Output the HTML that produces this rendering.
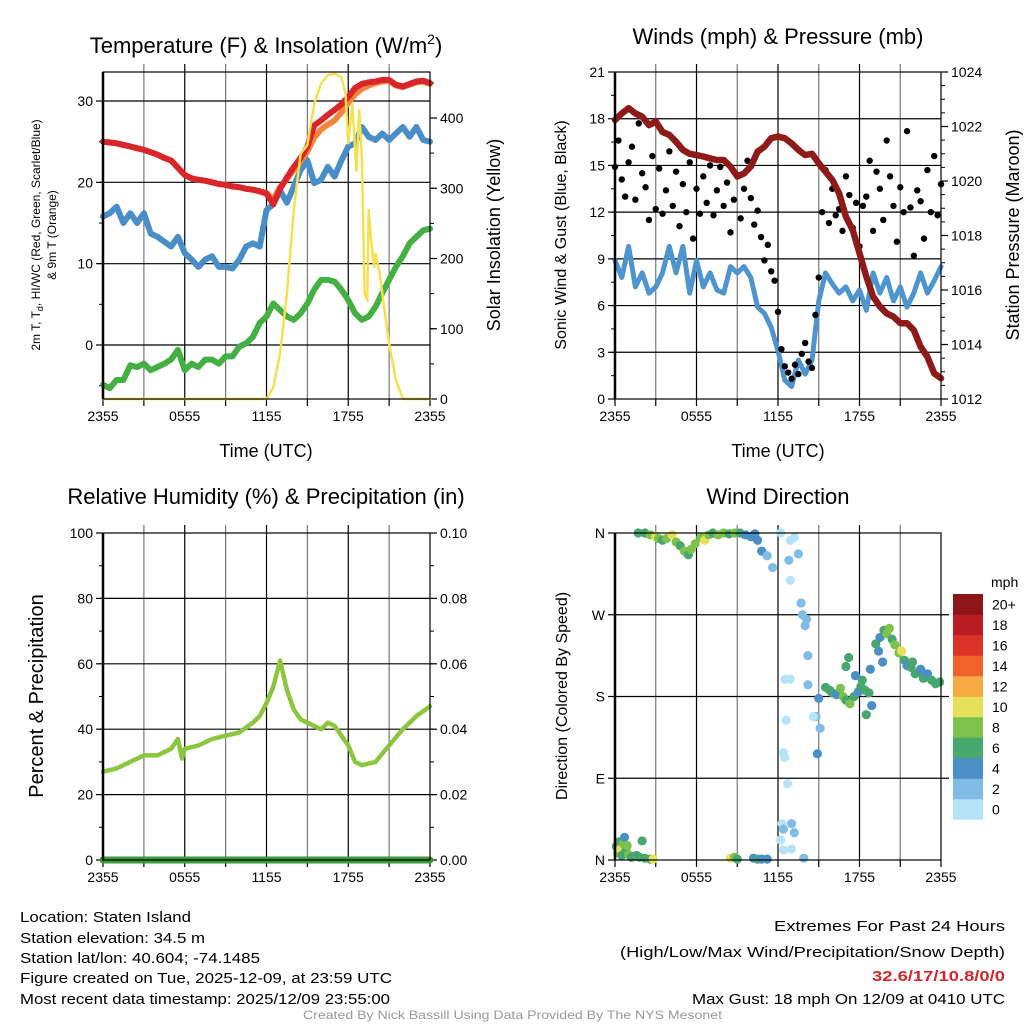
<!DOCTYPE html>
<html><head><meta charset="utf-8"><style>
html,body{margin:0;padding:0;background:#fff;}
svg{display:block;font-family:"Liberation Sans",Arial,sans-serif;}
</style></head><body>
<svg id="chart" width="1024" height="1024" viewBox="0 0 1024 1024" xmlns="http://www.w3.org/2000/svg">
<rect width="1024" height="1024" fill="#fff"/>
<text x="266" y="53" font-size="22" text-anchor="middle">Temperature (F) &amp; Insolation (W/m<tspan font-size="14" dy="-9">2</tspan><tspan dy="9">)</tspan></text>
<text x="778" y="44" font-size="22" text-anchor="middle">Winds (mph) &amp; Pressure (mb)</text>
<text x="266" y="504" font-size="22" text-anchor="middle">Relative Humidity (%) &amp; Precipitation (in)</text>
<text x="778" y="504" font-size="22" text-anchor="middle">Wind Direction</text>

<text x="266" y="457" font-size="18" text-anchor="middle">Time (UTC)</text>
<text x="778" y="457" font-size="18" text-anchor="middle">Time (UTC)</text>
<text transform="translate(40,235) rotate(-90)" font-size="12" text-anchor="middle">2m T, T<tspan font-size="9" dy="3">d</tspan><tspan dy="-3">, HI/WC (Red, Green, Scarlet/Blue)</tspan></text>
<text transform="translate(56,235) rotate(-90)" font-size="12" text-anchor="middle">&amp; 9m T (Orange)</text>
<text transform="translate(500,235) rotate(-90)" font-size="18" text-anchor="middle">Solar Insolation (Yellow)</text>
<text transform="translate(566,235) rotate(-90)" font-size="16" text-anchor="middle">Sonic Wind &amp; Gust (Blue, Black)</text>
<text transform="translate(1019,235) rotate(-90)" font-size="18" text-anchor="middle">Station Pressure (Maroon)</text>
<text transform="translate(43,696) rotate(-90)" font-size="20" text-anchor="middle">Percent &amp; Precipitation</text>
<text transform="translate(567,696) rotate(-90)" font-size="16" text-anchor="middle">Direction (Colored By Speed)</text>

<g font-size="15">
<text x="20" y="922" textLength="171" lengthAdjust="spacingAndGlyphs">Location: Staten Island</text>
<text x="20" y="943" textLength="185" lengthAdjust="spacingAndGlyphs">Station elevation: 34.5 m</text>
<text x="20" y="963" textLength="240" lengthAdjust="spacingAndGlyphs">Station lat/lon: 40.604; -74.1485</text>
<text x="20" y="983" textLength="372" lengthAdjust="spacingAndGlyphs">Figure created on Tue, 2025-12-09, at 23:59 UTC</text>
<text x="20" y="1004" textLength="370" lengthAdjust="spacingAndGlyphs">Most recent data timestamp: 2025/12/09 23:55:00</text>
</g>
<g font-size="15">
<text x="774" y="931" textLength="231" lengthAdjust="spacingAndGlyphs">Extremes For Past 24 Hours</text>
<text x="620" y="957" textLength="385" lengthAdjust="spacingAndGlyphs">(High/Low/Max Wind/Precipitation/Snow Depth)</text>
<text x="872" y="981" textLength="133" lengthAdjust="spacingAndGlyphs" fill="#d0282c" font-weight="bold">32.6/17/10.8/0/0</text>
<text x="692" y="1004" textLength="313" lengthAdjust="spacingAndGlyphs">Max Gust: 18 mph On 12/09 at 0410 UTC</text>
</g>
<text x="303" y="1019" font-size="12" fill="#999" textLength="419" lengthAdjust="spacingAndGlyphs">Created By Nick Bassill Using Data Provided By The NYS Mesonet</text>
<g id="plots"></g>
</svg>
<script>
// ---------- data ----------
const halfHours = [];
for (let i = 0; i <= 48; i++) halfHours.push(i * 0.5);
const xTickLabels = ["2355","0555","1155","1755","2355"];
const tempTicks = [0,10,20,30];
const solarTicks = [0,100,200,300,400];
const windTicks = [0,3,6,9,12,15,18,21];
const pressTicks = [1012,1014,1016,1018,1020,1022,1024];
const rhTicks = [0,20,40,60,80,100];
const precipTickLabels = ["0.00","0.02","0.04","0.06","0.08","0.10"];
const dirTickLabels = ["N","E","S","W","N"];

const airTemp = [25.0,24.9,24.8,24.6,24.4,24.2,24.0,23.7,23.4,23.0,22.7,21.8,20.9,20.5,20.3,20.2,20.0,19.8,19.7,19.5,19.4,19.2,19.1,18.9,18.6,17.3,19.2,20.6,21.9,23.0,24.4,27.0,27.6,28.3,28.9,29.6,30.5,31.6,32.1,32.3,32.4,32.6,32.6,32.0,31.8,32.1,32.4,32.5,32.2];
const temp9m = [25.0,24.9,24.8,24.6,24.4,24.2,24.0,23.7,23.4,23.0,22.7,21.8,20.9,20.5,20.3,20.2,20.0,19.8,19.7,19.5,19.4,19.2,19.1,18.9,18.7,17.9,19.4,20.4,21.5,22.6,23.8,25.5,26.5,27.1,27.6,28.6,29.8,30.8,31.5,31.9,32.2,32.4,32.5,31.9,31.7,32.0,32.3,32.4,32.1];
const windChill = [15.8,16.2,17.0,15.0,16.2,15.0,16.2,13.7,13.3,12.7,12.1,13.3,11.3,10.5,9.6,10.5,10.9,9.6,9.6,9.4,10.5,12.1,12.5,12.1,16.6,17.3,19.0,17.5,19.5,21.5,22.7,19.9,20.3,21.9,20.7,22.7,24.4,24.8,26.8,25.6,25.2,26.0,25.2,26.0,26.8,25.6,26.8,25.2,25.0];
const dewPoint = [-4.9,-5.3,-4.3,-4.3,-2.5,-2.7,-2.3,-3.1,-2.7,-2.3,-1.8,-0.6,-3.1,-2.3,-2.7,-1.8,-1.8,-2.3,-1.4,-1.4,-0.2,0.2,1.0,2.7,3.5,5.1,4.3,3.5,3.1,3.9,5.1,6.8,8.0,8.0,7.8,6.8,5.5,3.9,3.1,3.5,4.7,6.4,8.0,9.6,10.9,12.5,13.3,14.1,14.3];
const solarHours = [0,12,12.5,13,13.5,14,14.5,15,15.5,16,16.5,17,17.5,17.8,18,18.3,18.6,18.8,19,19.2,19.4,19.5,19.7,19.9,20,20.3,20.5,21,21.5,22,24];
const solarValues = [0,0,17,65,150,269,349,362,420,449,461,463,458,435,364,420,325,411,345,150,140,269,221,188,207,179,150,79,27,0,0];

const sonicWind = [8.9,7.8,9.8,7.2,8.1,6.8,7.2,8.1,9.8,8.1,9.8,6.8,8.9,7.2,8.1,7.0,6.8,8.5,8.1,8.5,7.8,5.9,5.5,4.6,3.1,1.2,0.8,2.5,1.6,2.5,6.3,8.1,7.4,6.8,7.2,6.3,7.0,5.7,8.1,6.8,7.8,6.3,7.2,5.9,6.8,8.1,6.8,7.6,8.5];
const pressure = [1022.24,1022.48,1022.67,1022.48,1022.36,1022.05,1022.18,1021.8,1021.69,1021.44,1021.14,1021.0,1020.95,1020.9,1020.83,1020.77,1020.77,1020.53,1020.16,1020.28,1020.53,1021.08,1021.26,1021.57,1021.63,1021.57,1021.38,1021.14,1020.95,1021.0,1020.65,1020.34,1020.04,1019.55,1018.69,1018.2,1017.35,1016.49,1015.76,1015.39,1015.14,1015.02,1014.78,1014.78,1014.53,1013.92,1013.55,1012.94,1012.76];
const gustValues = [14.9,16.6,14.1,13.0,15.2,16.2,12.8,17.7,14.5,13.6,11.5,15.6,12.2,14.8,11.9,13.4,15.9,12.4,14.6,11.1,13.8,12.0,15.2,10.3,13.5,11.9,14.3,12.6,15.0,11.8,13.4,14.9,12.4,13.9,10.7,12.8,14.4,11.6,13.5,15.3,12.9,11.2,12.1,10.4,8.9,9.9,8.2,7.6,5.6,3.2,2.1,1.7,1.3,2.2,1.6,2.9,3.6,2.4,2.0,5.4,7.8,12.0,14.7,11.3,13.5,11.8,12.2,10.8,14.3,13.1,11.0,12.6,9.8,12.4,13.0,15.3,10.8,14.6,13.5,11.5,16.6,14.3,12.4,10.1,13.6,12.0,17.2,12.3,9.2,13.4,12.7,10.3,14.7,12.0,15.6,11.8,13.8];

const rhHours = [0,1,2,3,4,5,5.5,5.8,6,7,8,9,10,11,11.5,12,12.5,13,13.5,14,14.5,15,16,16.5,17,17.5,18,18.5,19,20,21,22,23,24];
const rhValues = [27,28,30,32,32,34,37,31,34,35,37,38,39,42,44,48,53,61,52,46,43,42,40,42,41,38,35,30,29,30,35,40,44,47];
const precipHours = [0,24];
const precipValues = [0,0];

const dirHours = [0.1,0.2,0.3,0.4,0.5,0.6,0.7,0.8,0.9,1.0,1.2,1.4,1.6,1.8,2.0,2.2,2.6,2.8,1.7,2.2,2.6,3.0,3.2,3.5,3.8,4.2,4.5,4.8,5.1,5.4,5.6,5.9,6.3,6.6,6.9,7.2,7.6,8.0,8.4,8.8,9.2,9.6,10.0,10.3,10.5,10.8,11.2,11.6,8.5,8.8,9.0,10.2,10.5,10.8,11.2,12.2,12.9,13.2,12.8,13.5,12.9,13.7,13.8,14.0,14.2,14.1,12.5,12.9,12.6,12.4,12.5,12.7,12.3,12.4,13.0,13.2,12.2,12.4,13.0,13.9,14.2,15.0,14.8,15.1,14.9,14.6,15.5,15.8,16.0,16.3,16.6,16.8,17.0,17.3,17.6,17.9,18.1,18.4,18.7,18.9,18.8,18.2,17.7,17.0,17.2,18.5,19.2,19.5,19.8,20.0,20.2,20.4,20.6,20.9,19.4,19.7,21.1,21.3,21.5,21.8,22.1,22.4,22.7,23.0,23.3,23.6,23.9,21.9,22.5];
const dirDegrees = [15,8,20,12,5,18,25,10,16,6,3,4,5,3,21,2,1,1,360,360,358,356,354,352,354,358,350,346,340,336,342,348,355,352,358,360,358,360,359,360,360,358,356,359,352,340,335,322,2,3,1,2,1,1,1,360,352,355,330,337,308,283,270,258,225,265,199,199,154,118,113,84,40,34,40,30,22,11,12,2,193,178,158,145,117,158,190,187,184,182,189,180,176,172,180,185,191,187,184,170,210,198,203,213,223,160,238,245,253,249,255,243,237,228,230,218,230,220,214,212,205,207,200,205,198,194,196,218,210];
const dirSpeeds = [7,9,6,10,7,8,4,7,9,8,6,7,6,6,6,6,7,10,7,6,8,10,8,7,9,10,8,6,8,7,8,8,9,10,8,7,8,8,6,8,6,5,4,4,4,4,3,3,10,8,7,5,6,4,5,1,1,1,2,3,1,2,3,3,3,2,1,1,1,1,1,1,1,2,2,2,1,1,1,2,3,4,3,3,4,1,6,6,7,5,8,8,6,8,6,4,6,7,6,4,5,6,4,6,6,6,6,5,6,9,8,6,8,8,4,4,10,6,4,6,7,6,6,4,6,7,6,6,4];

const speedColors = ["#b5e4f9","#80bde6","#4a8fc6","#48a66f","#7dc24b","#e7e15a","#f6aa44","#ef632b","#dc3328","#ba1c24","#8f1519"];
const speedLabels = ["0","2","4","6","8","10","12","14","16","18","20+"];

// ---------- helpers ----------
const NS = "http://www.w3.org/2000/svg";
const root = document.getElementById("plots");
function mk(tag, attrs, parent) {
  const e = document.createElementNS(NS, tag);
  for (const k in attrs) e.setAttribute(k, attrs[k]);
  (parent || root).appendChild(e);
  return e;
}
function lin(d0, d1, r0, r1) { return v => r0 + (v - d0) * (r1 - r0) / (d1 - d0); }
function pathFrom(xs, ys, fx, fy) {
  return xs.map((h, i) => (i ? "L" : "M") + fx(h).toFixed(1) + "," + fy(ys[i]).toFixed(1)).join("");
}

function frame(P, name) {
  const g = mk("g", {});
  
  
  const fx = lin(0, 24, P.x0, P.x1);
  for (let h = 3; h < 24; h += 3) {
    const l = mk("line", {x1: fx(h), x2: fx(h), y1: P.y0 - 8, y2: P.y1, stroke: (h % 6 === 0) ? "#000" : "#777", "stroke-width": 1.2}, g);
    
    
  }
  for (let h = 0; h <= 24; h += 3) {
    const l = mk("line", {x1: fx(h), x2: fx(h), y1: P.y1, y2: P.y1 + 7, stroke: "#000", "stroke-width": 1.2}, g);
    
    
  }
  xTickLabels.forEach((t, i) => {
    const tx = mk("text", {x: fx(i * 6), y: P.y1 + 22, "font-size": 14, "text-anchor": "middle"}, g);
    
    
    tx.textContent = t;
  });
  return {g, fx};
}
function border(P, g) {
  const r = mk("rect", {x: P.x0, y: P.y0, width: P.x1 - P.x0, height: P.y1 - P.y0, fill: "none", stroke: "#000", "stroke-width": 1.2}, g);
  
  
  const l = mk("line", {x1: P.x0, x2: P.x0, y1: P.y0, y2: P.y1, stroke: "#000", "stroke-width": 2.5}, g);
  
  
}
function yAxis(P, g, fy, ticks, labels, side, minorStep, grid, name) {
  const x = side === "left" ? P.x0 : P.x1;
  const dir = side === "left" ? -1 : 1;
  ticks.forEach((v, i) => {
    const y = fy(v);
    if (grid && y > P.y0 + 1 && y < P.y1 - 1) {
      const gl = mk("line", {x1: P.x0, x2: P.x1, y1: y, y2: y, stroke: "#000", "stroke-width": 1.2}, g);
      
      
    }
    const t = mk("line", {x1: x, x2: x + dir * 7, y1: y, y2: y, stroke: "#000", "stroke-width": 1.2}, g);
    
    
    const tx = mk("text", {x: x + dir * 10, y: y + 5, "font-size": 14, "text-anchor": side === "left" ? "end" : "start"}, g);
    
    
    tx.textContent = labels[i];
  });
  if (minorStep) {
    const lo = ticks[0], hi = ticks[ticks.length - 1];
    for (let v = lo - minorStep * 4; v <= hi + minorStep * 4; v += minorStep) {
      const y = fy(v);
      if (y < P.y0 || y > P.y1) continue;
      const t = mk("line", {x1: x, x2: x + dir * 4, y1: y, y2: y, stroke: "#000", "stroke-width": 1}, g);
      
      
    }
  }
}
function series(g, d, color, w, name) {
  const p = mk("path", {d: d, fill: "none", stroke: color, "stroke-width": w, "stroke-linejoin": "round", "stroke-linecap": "round"}, g);
  
  
  return p;
}

// ---------- panel 1: temperature ----------
(function () {
  const P = {x0: 103, x1: 430, y0: 72, y1: 399};
  const {g, fx} = frame(P, "temperature-panel");
  const fy = lin(0, 30, 345, 101);
  const fs = lin(0, 400, 399, 118);
  yAxis(P, g, fy, tempTicks, tempTicks.map(String), "left", 5, true, "temp-y");
  yAxis(P, g, fs, solarTicks, solarTicks.map(String), "right", 50, false, "solar-y");
  series(g, pathFrom(halfHours, dewPoint, fx, fy), "#44b044", 6, "dewpoint-line");
  series(g, pathFrom(halfHours, windChill, fx, fy), "#4a8ec8", 6, "wind-chill-line");
  series(g, pathFrom(halfHours, temp9m, fx, fy), "#f5853a", 6, "temp-9m-line");
  series(g, pathFrom(halfHours, airTemp, fx, fy), "#d8262a", 6, "air-temp-line");
  series(g, pathFrom(solarHours, solarValues, fx, fs), "#f7e050", 2.5, "solar-insolation-line");
  border(P, g);
})();

// ---------- panel 2: winds & pressure ----------
(function () {
  const P = {x0: 615, x1: 941, y0: 72, y1: 399};
  const {g, fx} = frame(P, "winds-panel");
  const fy = lin(0, 21, 399, 72);
  const fp = lin(1012, 1024, 399, 72);
  yAxis(P, g, fy, windTicks, windTicks.map(String), "left", 1.5, true, "wind-y");
  yAxis(P, g, fp, pressTicks, pressTicks.map(String), "right", 0.5, false, "pressure-y");
  series(g, pathFrom(halfHours, sonicWind, fx, fy), "#4e95cf", 5, "sonic-wind-line");
  gustValues.forEach((v, i) => {
    const c = mk("circle", {cx: fx(i * 0.25), cy: fy(v), r: 3.2, fill: "#000"}, g);
    
    
  });
  series(g, pathFrom(halfHours, pressure, fx, fp), "#8e1a1a", 6.5, "pressure-line");
  border(P, g);
})();

// ---------- panel 3: RH & precip ----------
(function () {
  const P = {x0: 103, x1: 430, y0: 533, y1: 860};
  const {g, fx} = frame(P, "humidity-panel");
  const fy = lin(0, 100, 860, 533);
  const fpr = lin(0, 0.1, 860, 533);
  yAxis(P, g, fy, rhTicks, rhTicks.map(String), "left", 10, true, "rh-y");
  yAxis(P, g, fy, rhTicks, precipTickLabels, "right", 10, false, "precip-y");
  series(g, pathFrom(rhHours, rhValues, fx, fy), "#8cc63f", 4.5, "relative-humidity-line");
  series(g, pathFrom(precipHours, precipValues, fx, fpr), "#3a9a3a", 7, "precipitation-line");
  border(P, g);
})();

// ---------- panel 4: wind direction ----------
(function () {
  const P = {x0: 615, x1: 941, y0: 533, y1: 860};
  const {g, fx} = frame(P, "wind-direction-panel");
  const fd = lin(0, 360, 860, 533);
  dirTickLabels.forEach((t, i) => {
    const y = fd(i * 90);
    if (i > 0 && i < 4) {
      const gl = mk("line", {x1: P.x0, x2: P.x1 + 8, y1: y, y2: y, stroke: "#000", "stroke-width": 1.2}, g);
      
      
    }
    const tk = mk("line", {x1: P.x0, x2: P.x0 - 7, y1: y, y2: y, stroke: "#000", "stroke-width": 1.2}, g);
    
    
    const tx = mk("text", {x: P.x0 - 10, y: y + 5, "font-size": 14, "text-anchor": "end"}, g);
    
    
    tx.textContent = t;
  });
  dirHours.forEach((h, i) => {
    const bin = Math.min(10, Math.floor(dirSpeeds[i] / 2));
    const c = mk("circle", {cx: fx(h), cy: fd(dirDegrees[i]), r: 4.6, fill: speedColors[bin]}, g);
    
    
  });
  border(P, g);
  const cb = mk("g", {});
  
  
  const top = 594, bh = 20.5;
  speedColors.forEach((c, i) => {
    const y = top + (10 - i) * bh;
    const r = mk("rect", {x: 953, y: y, width: 30, height: bh + 0.3, fill: c}, cb);
    
    
    const t = mk("text", {x: 992, y: y + bh / 2 + 5, "font-size": 14}, cb);
    
    
    t.textContent = speedLabels[i];
  });
  const u = mk("text", {x: 991, y: 587, "font-size": 14}, cb);
  
  
  u.textContent = "mph";
})();
</script>
</body></html>
